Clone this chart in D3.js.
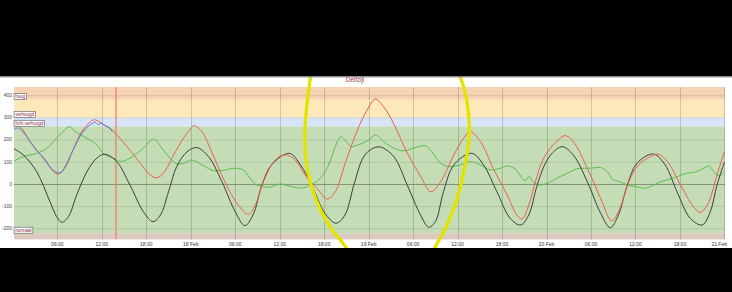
<!DOCTYPE html>
<html>
<head>
<meta charset="utf-8">
<script src="https://cdnjs.cloudflare.com/ajax/libs/d3/7.8.5/d3.min.js"></script>
<style>
  body { margin: 0; background: #000; }
  svg { display: block; font-family: "Liberation Sans", Arial, sans-serif; }
</style>
</head>
<body>
<svg></svg>
<script>
// hours after 17 Feb 00:00, value in cm
var astro = [[0,161],[1.4,131],[3.2,56],[5.0,-80],[5.9,-147],[6.6,-173],[7.5,-147],[8.6,-50],[10,56],[11.3,116],[12.4,134],
  [14.0,101],[15.8,-5],[17.6,-125],[18.9,-170],[19.9,-140],[21.0,-35],[22.1,78],[23.5,145],[24.8,164],[26.4,123],[28.2,10],
  [30.0,-125],[31.3,-188],[32.4,-140],[33.6,-5],[34.9,86],[37.3,138],[38.8,86],[40.3,-5],[42.1,-132],[43.6,-177],[44.8,-140],
  [46.0,-5],[47.2,115],[48.2,153],[49.5,167],[51.4,123],[53.2,-5],[55.0,-140],[56.1,-195],[57.0,-170],[58.1,-35],[59.5,86],
  [61.9,138],[63.5,86],[65.3,-35],[67.1,-155],[68.5,-185],[69.6,-140],[70.7,-10],[71.8,90],[72.8,140],[74.1,168],[75.6,131],
  [77.5,10],[79.3,-132],[80.6,-197],[81.7,-140],[82.9,-5],[84.2,93],[86.4,135],[88.0,86],[89.6,-35],[91.4,-155],[93.0,-185],
  [94.1,-125],[95.0,-5],[96,98]];

var forecast = [[0,258],[0.6,262],[1.2,250],[2.3,191],[4.1,116],[5.5,56],[6.1,44],[7.0,71],[8.2,161],[9.3,236],[10.6,284],
  [11.1,289],[12.2,269],[13.6,236],[15.4,168],[17.2,93],[18.5,41],[19.4,28],[20.3,48],[21.7,131],[23.0,206],[23.9,244],
  [24.4,263],[25.5,236],[26.8,146],[28.6,10],[30.4,-95],[31.8,-137],[32.7,-95],[34.0,26],[35.4,108],[36.7,131],[38.1,108],
  [39.4,41],[41.2,-27],[42.4,-68],[43.5,-35],[44.8,90],[46.4,236],[47.8,334],[48.9,382],[50.0,349],[51.4,270],[53.2,140],
  [55.0,35],[56.4,-35],[57.7,10],[59.5,131],[60.8,206],[61.7,236],[63.1,191],[64.8,71],[66.7,-50],[68.0,-140],[68.7,-158],
  [69.6,-95],[70.5,10],[71.4,100],[72.5,161],[73.6,198],[74.5,218],[75.6,191],[77.5,71],[79.3,-65],[80.8,-167],[81.9,-110],
  [83.1,10],[84.4,86],[86.0,123],[87.1,134],[88.3,101],[90.1,-5],[91.8,-102],[92.7,-128],[93.7,-95],[95.0,41],[96,146]];

var measured = [[0,240],[0.5,252],[1.0,246],[2.3,193],[3.2,150],[4.1,120],[5.0,78],[5.5,60],[6.1,50],[6.6,55],[7.0,76],
  [8.2,158],[9.3,228],[10.0,255],[10.6,270],[11.1,278],[11.5,268],[11.9,273],[12.4,262],[13.0,255],[13.4,236]];

var surge = [[0,101],[1.4,123],[3.2,138],[4.6,161],[5.9,206],[7.0,244],[7.6,258],[8.4,236],[10.0,206],[11.3,176],[12.2,138],
  [13.6,116],[14.5,101],[15.8,116],[17.6,161],[19.0,202],[20.1,161],[21.2,116],[22.3,89],[23.0,93],[24.1,108],[25.5,86],
  [27.3,59],[28.6,63],[30.0,71],[31.1,63],[32.0,26],[32.7,-1],[34.5,-15],[36.1,0],[37.6,-12],[38.8,-19],[40.1,-5],[41.2,18],
  [42.6,86],[43.5,168],[44.2,213],[44.8,198],[45.7,168],[46.6,176],[48.0,198],[48.9,221],[50.0,191],[51.4,161],[52.7,149],
  [54.0,161],[55.6,173],[56.5,146],[57.7,93],[59.0,78],[60.4,86],[61.7,101],[63.1,86],[64.4,63],[65.8,71],[66.6,81],[67.5,74],
  [68.4,41],[69.1,14],[69.6,33],[70.2,10],[71.1,-5],[72.1,3],[73.4,26],[74.8,48],[76.6,71],[77.9,71],[79.0,75],[80.2,56],
  [81.0,18],[81.9,10],[82.9,-5],[84.0,-12],[85.1,-19],[86.0,-12],[87.4,10],[89.1,26],[90.9,48],[92.3,56],[93.2,71],[93.9,81],
  [94.6,53],[95.3,37],[96,53]];

var bandNames = ["laag", "normaal", "licht verhoogd", "verhoogd", "hoog"];
var bandLow   = [-250, -222, 260, 300, 380];
var bandHigh  = [-222, 260, 300, 380, 437];
var bandColors = ["#dcc9bf", "#c5ddb6", "#d7e5f7", "#fde8b9", "#f5d2b1"];
var yTicks = [-200, -100, 0, 100, 200, 300, 400];
var nowHour = 13.9;
var title = "Delfzijl";

var width = 732,
    height = 292;

var t0 = Date.UTC(2020, 1, 17);
function at(h) { return new Date(t0 + h * 36e5); }

var x = d3.scaleUtc()
    .domain([at(0), at(96)])
    .range([12.9, 724.4]);

var y = d3.scaleLinear()
    .domain([-250, 437])
    .range([239.4, 87]);

var left = 14, right = 725;

var svg = d3.select("svg")
    .attr("width", width)
    .attr("height", height);

svg.append("rect").attr("width", width).attr("height", height).attr("fill", "#fff");

svg.append("clipPath").attr("id", "plot")
  .append("rect")
    .attr("x", left).attr("y", y(437))
    .attr("width", right - left).attr("height", y(-250) - y(437));

var g = svg.append("g");

// warning bands
g.selectAll(".band")
    .data(bandNames)
  .enter().append("rect")
    .attr("class", "band")
    .attr("x", left)
    .attr("width", right - left)
    .attr("y", function(d, i) { return y(bandHigh[i]); })
    .attr("height", function(d, i) { return y(bandLow[i]) - y(bandHigh[i]); })
    .attr("fill", function(d, i) { return bandColors[i]; });

// grid
g.selectAll(".hgrid")
    .data(yTicks)
  .enter().append("line")
    .attr("x1", left).attr("x2", right)
    .attr("y1", function(d) { return y(d) + 0.5; })
    .attr("y2", function(d) { return y(d) + 0.5; })
    .attr("stroke", function(d) { return d == 0 ? "rgba(0,0,0,0.35)" : "rgba(0,0,0,0.1)"; });

var xTicks = d3.utcHour.every(6).range(at(6), at(96.1));

g.selectAll(".vgrid")
    .data(xTicks)
  .enter().append("line")
    .attr("x1", function(d) { return Math.round(x(d)) + 0.5; })
    .attr("x2", function(d) { return Math.round(x(d)) + 0.5; })
    .attr("y1", y(437)).attr("y2", y(-250))
    .attr("stroke", "rgba(0,0,0,0.16)");

// y labels
svg.selectAll(".ylab")
    .data(yTicks)
  .enter().append("text")
    .attr("x", 12)
    .attr("y", function(d) { return y(d) + 1.8; })
    .attr("text-anchor", "end")
    .attr("font-size", 5)
    .attr("fill", "#444")
    .text(function(d) { return d; });

// x labels
var fmtDay = d3.utcFormat("%d %b"), fmtHour = d3.utcFormat("%H:%M");
svg.selectAll(".xlab")
    .data(xTicks)
  .enter().append("text")
    .attr("x", function(d, i) { return i == xTicks.length - 1 ? 727 : x(d); })
    .attr("y", 246)
    .attr("text-anchor", function(d, i) { return i == xTicks.length - 1 ? "end" : "middle"; })
    .attr("font-size", 5)
    .attr("fill", "#333")
    .text(function(d) { return d.getUTCHours() == 0 ? fmtDay(d) : fmtHour(d); });

// series
function line(curve) {
  return d3.line()
    .x(function(d) { return x(at(d[0])); })
    .y(function(d) { return y(d[1]); })
    .curve(curve);
}

var lines = svg.append("g").attr("clip-path", "url(#plot)");

lines.append("line")
    .attr("x1", x(at(nowHour))).attr("x2", x(at(nowHour)))
    .attr("y1", y(437)).attr("y2", y(-250))
    .attr("stroke", "#ee7a68").attr("stroke-width", 1.2);

lines.append("path").datum(surge)
    .attr("d", line(d3.curveMonotoneX))
    .attr("fill", "none").attr("stroke", "#58bd4a").attr("stroke-width", 1);

lines.append("path").datum(astro)
    .attr("d", line(d3.curveCatmullRom.alpha(0.5)))
    .attr("fill", "none").attr("stroke", "#3d3d3d").attr("stroke-width", 1);

lines.append("path").datum(forecast)
    .attr("d", line(d3.curveCatmullRom.alpha(0.5)))
    .attr("fill", "none").attr("stroke", "#ea5f4c").attr("stroke-width", 1);

lines.append("path").datum(measured)
    .attr("d", line(d3.curveCatmullRom.alpha(0.5)))
    .attr("fill", "none").attr("stroke", "#5577e0").attr("stroke-width", 1);

// band labels (bottom of box on bottom of band)
var labelled = bandNames.slice(1);
var tags = svg.selectAll(".tag")
    .data(labelled)
  .enter().append("g")
    .attr("transform", function(d, i) { return "translate(" + left + "," + (y(bandLow[i + 1]) - 6) + ")"; });

tags.append("text")
    .attr("x", 1.3).attr("y", 4.4)
    .attr("font-size", 4.5)
    .attr("fill", "#8a2040")
    .text(function(d) { return d; });

tags.insert("rect", "text")
    .attr("width", function() { return this.parentNode.querySelector("text").getComputedTextLength() + 2.6; })
    .attr("height", 6)
    .attr("fill", "#fff")
    .attr("stroke", "#555")
    .attr("stroke-width", 0.6);

svg.append("text")
    .attr("x", 355).attr("y", 82)
    .attr("text-anchor", "middle")
    .attr("font-size", 6.3)
    .attr("fill", "#a83a3a")
    .text(title);

// hand drawn yellow ring on top of the screenshot
var ringLeft = [[312,68],[308,95],[305,130],[306,160],[311,185],[321,211],[333,231],[342,242],[353,258]];
var ringRight = [[457,68],[465,92],[469,120],[469,140],[466,160],[462,180],[456,202],[447,225],[438,242],[429,258]];
var pen = d3.line().curve(d3.curveCatmullRom.alpha(0.5));
[ringLeft, ringRight].forEach(function(p) {
  svg.append("path").attr("d", pen(p))
    .attr("fill", "none").attr("stroke", "#e3e300").attr("stroke-width", 3.3).attr("stroke-linecap", "round");
});

// black screen edges
svg.append("rect").attr("width", width).attr("height", 76.5).attr("fill", "#000");
svg.append("line").attr("x1", 0).attr("x2", width).attr("y1", 77).attr("y2", 77).attr("stroke", "#999");
svg.append("rect").attr("y", 248).attr("width", width).attr("height", height - 248).attr("fill", "#000");
</script>
</body>
</html>
